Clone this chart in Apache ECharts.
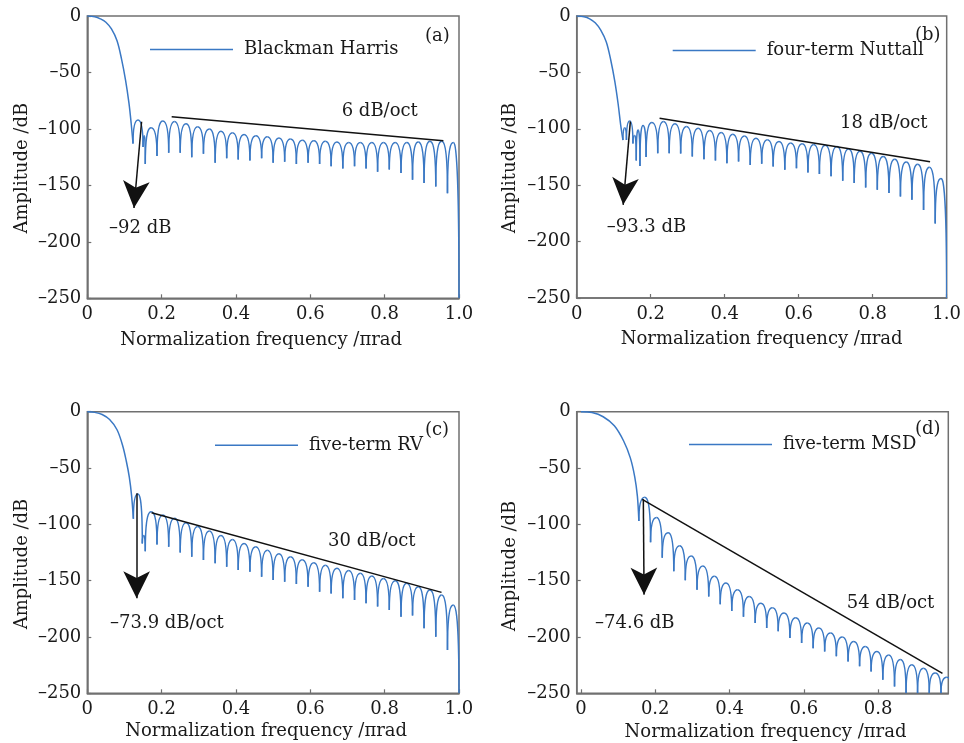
<!DOCTYPE html>
<html><head><meta charset="utf-8">
<script src="https://cdn.jsdelivr.net/npm/echarts@6/dist/echarts.min.js"></script>
<style>html,body{margin:0;padding:0;background:#fff}#c{width:964px;height:743px}</style>
</head><body><div id="c"></div>
<script>
// ---------- tick labels ----------
const xTicksFull = [0, 0.2, 0.4, 0.6, 0.8, 1.0];
const xTicksD = [0, 0.2, 0.4, 0.6, 0.8];
const yTicks = [-250, -200, -150, -100, -50, 0];

const legendNames = ['Blackman Harris', 'four-term Nuttall', 'five-term RV', 'five-term MSD'];
const slopeTexts = ['6 dB/oct', '18 dB/oct', '30 dB/oct', '54 dB/oct'];
const sideTexts = ['\u201392 dB', '\u201393.3 dB', '\u201373.9 dB/oct', '\u201374.6 dB'];
const panelTags = ['(a)', '(b)', '(c)', '(d)'];

// ---------- panel (a) Blackman Harris ----------
const mainXA = [0, 0.02, 0.035, 0.05, 0.065, 0.08, 0.092, 0.103, 0.112, 0.118, 0.123];
const mainYA = [0, -0.7, -2.5, -5.5, -11.5, -22, -38, -57, -77, -95, -113];
const nullXA = [0.123, 0.150, 0.156, 0.1875, 0.219, 0.25, 0.281, 0.3125, 0.344, 0.375, 0.406, 0.4375, 0.469, 0.5, 0.531, 0.5625, 0.594, 0.625, 0.656, 0.6875, 0.719, 0.75, 0.781, 0.8125, 0.844, 0.875, 0.906, 0.9375, 0.969, 1.0];
const nullYA = [-113, -116, -131, -124, -121, -121, -125, -122, -130, -126, -127, -128, -126, -130, -129, -131, -130, -131, -133, -135, -133, -135, -138, -136, -139, -145, -148, -151, -157, -250];
const peakYA = [-92, -106, -99, -93, -93.5, -95.5, -98, -100, -102, -103.5, -105, -106, -107, -108, -109, -110, -110.5, -111, -111.5, -112, -112, -112, -112, -112, -112, -111.5, -111, -111, -112];
const slopeXA = [0.227, 0.958];
const slopeYA = [-89.2, -110.4];
const arrowXA = [0.146, 0.1256];
const arrowYA = [-93.6, -170];

// ---------- panel (b) four-term Nuttall ----------
const mainXB = [0, 0.02, 0.035, 0.05, 0.065, 0.08, 0.092, 0.103, 0.112, 0.119, 0.125];
const mainYB = [0, -0.7, -2.5, -6, -12.5, -23, -39, -58, -78, -97, -110];
const nullXB = [0.125, 0.1345, 0.152, 0.161, 0.171, 0.1875, 0.219, 0.25, 0.281, 0.3125, 0.344, 0.375, 0.406, 0.4375, 0.469, 0.5, 0.531, 0.5625, 0.594, 0.625, 0.656, 0.6875, 0.719, 0.75, 0.781, 0.8125, 0.844, 0.875, 0.906, 0.9375, 0.969, 1.0];
const nullYB = [-110, -110, -113, -128, -133, -125, -121.6, -121.6, -122, -124.6, -127, -128, -130.5, -129, -132, -131, -133.4, -136.4, -135, -138.7, -140, -142, -146, -148, -152, -154, -157, -160, -163, -172, -184, -250];
const peakYB = [-99, -93, -106, -101, -97, -94.5, -93.6, -95.6, -98, -99.5, -101.5, -103.3, -104.8, -106.3, -108.3, -109.8, -111.3, -112.5, -113.2, -114, -114.5, -115.8, -118, -120, -121.7, -124.5, -127, -129.5, -131.5, -134, -144];
const slopeXB = [0.224, 0.955];
const slopeYB = [-90.6, -129.2];
const arrowXB = [0.145, 0.1256];
const arrowYB = [-93.6, -167.4];

// ---------- panel (c) five-term RV ----------
const mainXC = [0, 0.02, 0.04, 0.06, 0.08, 0.095, 0.105, 0.113, 0.119, 0.124];
const mainYC = [0, -0.6, -2.5, -7, -16, -30, -44, -58, -74, -95];
const nullXC = [0.124, 0.148, 0.156, 0.1875, 0.219, 0.25, 0.281, 0.3125, 0.344, 0.375, 0.406, 0.4375, 0.469, 0.5, 0.531, 0.5625, 0.594, 0.625, 0.656, 0.6875, 0.719, 0.75, 0.781, 0.8125, 0.844, 0.875, 0.906, 0.9375, 0.969, 1.0];
const nullYC = [-95, -117, -124, -118, -120, -125, -128.7, -131.7, -134.6, -137.6, -140.5, -142, -146.5, -149.4, -151, -153, -155.3, -159.8, -161.3, -165.7, -167.2, -170, -173, -176, -182, -181, -192.3, -199.7, -211.6, -250];
const peakYC = [-73, -110, -88.8, -91.7, -94.7, -98.5, -102, -106, -110, -113.5, -117, -120, -123, -126, -128.7, -131.5, -134, -136.4, -139, -141, -143.5, -145.9, -148, -150, -152.4, -155.3, -158.3, -162.7, -171.6];
const slopeXC = [0.173, 0.953];
const slopeYC = [-89.7, -160.4];
const arrowXC = [0.1327, 0.1327];
const arrowYC = [-72.5, -165.7];

// ---------- panel (d) five-term MSD ----------
const mainXD = [0, 0.03, 0.06, 0.09, 0.115, 0.133, 0.145, 0.152, 0.156];
const mainYD = [0, -0.8, -4.5, -12.5, -26, -41, -58, -75, -97];
const nullXD = [0.156, 0.1875, 0.219, 0.25, 0.281, 0.3125, 0.344, 0.375, 0.406, 0.4375, 0.469, 0.5, 0.531, 0.5625, 0.594, 0.625, 0.656, 0.6875, 0.719, 0.75, 0.781, 0.8125, 0.844, 0.875, 0.906, 0.9375, 0.969, 1.0];
const nullYD = [-97, -116, -129.7, -141.6, -149.6, -158, -164, -171, -177, -182, -187.6, -192, -195, -201, -205.4, -210, -213, -217, -221.8, -226, -230.7, -238, -244, -250, -250, -250, -250, -250];
const peakYD = [-76, -94, -107.5, -119, -128, -137, -146, -152, -158, -164, -170, -174, -178.7, -183, -187.6, -192, -196.5, -200, -204, -208.4, -213, -216, -220, -224.7, -227.7, -232, -235.7];
const slopeXD = [0.165, 0.973];
const slopeYD = [-77.8, -232.3];
const arrowXD = [0.168, 0.17];
const arrowYD = [-77.8, -162.4];

// ---------- styling / layout ----------
const FONT = '"DejaVu Serif", serif';
const BLUE = '#3a78c4';
const AXIS = '#707070';
const INK = '#1a1a1a';
const FS = 18;

const panels = [
  {mainX: mainXA, mainY: mainYA, nullX: nullXA, nullY: nullYA, peakY: peakYA, slopeX: slopeXA, slopeY: slopeYA, arrowX: arrowXA, arrowY: arrowYA,
   grid: {left: 87.3, top: 16, width: 371.7, height: 282.3}, xMin: 0, xMax: 1, xTicks: xTicksFull,
   xNameGap: 33, xNamePad: [0, 24, 0, 0], yNameGap: 56, yNamePad: [0, 22, 0, 0],
   legend: {left: 150, cy: 50}, slopeTxt: [341.7, 111.7], sideTxt: [109, 228], tag: [425, 36]},
  {mainX: mainXB, mainY: mainYB, nullX: nullXB, nullY: nullYB, peakY: peakYB, slopeX: slopeXB, slopeY: slopeYB, arrowX: arrowXB, arrowY: arrowYB,
   grid: {left: 576.7, top: 16, width: 371.6, height: 282}, xMin: 0, xMax: 1, xTicks: xTicksFull,
   xNameGap: 32, xNamePad: [0, 0, 0, 0], yNameGap: 57, yNamePad: [0, 22, 0, 0],
   legend: {left: 672.7, cy: 51}, slopeTxt: [840, 123], sideTxt: [606.7, 227.7], tag: [915, 35]},
  {mainX: mainXC, mainY: mainYC, nullX: nullXC, nullY: nullYC, peakY: peakYC, slopeX: slopeXC, slopeY: slopeYC, arrowX: arrowXC, arrowY: arrowYC,
   grid: {left: 87.3, top: 411.7, width: 371.7, height: 281.6}, xMin: 0, xMax: 1, xTicks: xTicksFull,
   xNameGap: 29, xNamePad: [0, 14, 0, 0], yNameGap: 56, yNamePad: [0, 23, 0, 0],
   legend: {left: 215, cy: 445.7}, slopeTxt: [328, 541], sideTxt: [110, 623.3], tag: [425, 430]},
  {mainX: mainXD, mainY: mainYD, nullX: nullXD, nullY: nullYD, peakY: peakYD, slopeX: slopeXD, slopeY: slopeYD, arrowX: arrowXD, arrowY: arrowYD,
   grid: {left: 576.7, top: 411.7, width: 371.6, height: 281.6}, xMin: -0.0113, xMax: 0.9887, xTicks: xTicksD,
   xNameGap: 30, xNamePad: [0, 0, 0, 6], yNameGap: 57, yNamePad: [0, 27, 0, 0],
   legend: {left: 689, cy: 445}, slopeTxt: [846.7, 603.3], sideTxt: [595, 623], tag: [915, 429]}
];

const fmtY = v => v < 0 ? '\u2013' + Math.abs(v) : String(v);
const fmtX = v => v === 0 ? '0' : v.toFixed(1);

// draws one sidelobe arch between two nulls through the axis scales
function lobeRender(params, api) {
  const xa = api.value(0), xb = api.value(1);
  const p0 = api.coord([xa, api.value(2)]);
  const p1 = api.coord([xb, api.value(4)]);
  const pm = api.coord([(xa + xb) / 2, api.value(3)]);
  const hwL = pm[0] - p0[0], hwR = p1[0] - pm[0];
  const st = {stroke: BLUE, lineWidth: 1.5, fill: 'none'};
  return {type: 'group', children: [
    {type: 'bezierCurve', shape: {x1: p0[0], y1: p0[1], cpx1: p0[0], cpy1: pm[1], cpx2: p0[0] + 0.75 * hwL, cpy2: pm[1], x2: pm[0], y2: pm[1]}, style: st},
    {type: 'bezierCurve', shape: {x1: pm[0], y1: pm[1], cpx1: p1[0] - 0.75 * hwR, cpy1: pm[1], cpx2: p1[0], cpy2: pm[1], x2: p1[0], y2: p1[1]}, style: st}
  ]};
}

const grids = [], xAxes = [], yAxes = [], series = [], legends = [], graphics = [];
panels.forEach((p, i) => {
  grids.push(Object.assign({show: true, borderColor: AXIS, borderWidth: 1.5, backgroundColor: 'transparent', containLabel: false}, p.grid));
  xAxes.push({
    gridIndex: i, type: 'value', min: p.xMin, max: p.xMax,
    axisLine: {show: true, onZero: false, lineStyle: {color: AXIS, width: 1.5}},
    axisTick: {show: true, inside: true, length: 4, customValues: p.xTicks, lineStyle: {color: AXIS, width: 1.2}},
    axisLabel: {customValues: p.xTicks, formatter: fmtX, color: INK, fontFamily: FONT, fontSize: FS, margin: 7},
    splitLine: {show: false},
    name: 'Normalization frequency /\u03c0rad', nameLocation: 'middle', nameGap: p.xNameGap,
    nameTextStyle: {fontFamily: FONT, fontSize: FS, color: INK, padding: p.xNamePad}
  });
  yAxes.push({
    gridIndex: i, type: 'value', min: yTicks[0], max: yTicks[yTicks.length - 1], interval: 50,
    axisLine: {show: true, onZero: false, lineStyle: {color: AXIS, width: 1.5}},
    axisTick: {show: true, inside: true, length: 4, lineStyle: {color: AXIS, width: 1.2}},
    axisLabel: {formatter: fmtY, color: INK, fontFamily: FONT, fontSize: FS, margin: 6},
    splitLine: {show: false},
    name: 'Amplitude /dB', nameLocation: 'middle', nameGap: p.yNameGap,
    nameTextStyle: {fontFamily: FONT, fontSize: FS, color: INK, padding: p.yNamePad}
  });
  series.push({
    type: 'line', name: legendNames[i], xAxisIndex: i, yAxisIndex: i,
    data: p.mainX.map((x, j) => [x, p.mainY[j]]),
    smooth: 0.35, symbol: 'none', showSymbol: false, clip: true,
    lineStyle: {color: BLUE, width: 1.5}, itemStyle: {color: BLUE}, z: 3
  });
  const lobes = p.peakY.map((py, j) => [p.nullX[j], p.nullX[j + 1], p.nullY[j], py, p.nullY[j + 1]]);
  series.push({
    type: 'custom', name: legendNames[i] + ' sidelobes', xAxisIndex: i, yAxisIndex: i,
    data: lobes, renderItem: lobeRender, clip: true, silent: true, z: 3,
    encode: {x: [0, 1], y: [2, 3, 4]}
  });
  series.push({
    type: 'line', name: slopeTexts[i], xAxisIndex: i, yAxisIndex: i,
    data: p.slopeX.map((x, j) => [x, p.slopeY[j]]),
    symbol: 'none', showSymbol: false, silent: true, z: 4,
    lineStyle: {color: '#111', width: 1.5},
    markLine: {
      silent: true, animation: false, symbol: ['none', 'arrow'], symbolSize: [20, 27],
      label: {show: false}, emphasis: {disabled: true},
      lineStyle: {color: '#111', width: 1.5, type: 'solid'},
      data: [[{coord: [p.arrowX[0], p.arrowY[0]]}, {coord: [p.arrowX[1], p.arrowY[1]]}]]
    }
  });
  legends.push({
    data: [legendNames[i]], left: p.legend.left, top: p.legend.cy - 9.5, padding: 0,
    icon: 'rect', itemWidth: 83, itemHeight: 1.5, itemGap: 0, selectedMode: false,
    itemStyle: {color: BLUE},
    textStyle: {fontFamily: FONT, fontSize: FS, color: INK, padding: [0, 0, 0, 6]}
  });
  const txt = (s, pos) => ({type: 'text', x: pos[0], y: pos[1], silent: true, z: 10,
    style: {text: s, fontFamily: FONT, fontSize: FS, fill: INK, align: 'left', verticalAlign: 'middle'}});
  graphics.push(txt(slopeTexts[i], p.slopeTxt));
  graphics.push(txt(sideTexts[i], p.sideTxt));
  graphics.push(txt(panelTags[i], p.tag));
});

const chart = echarts.init(document.getElementById('c'), null, {renderer: 'canvas'});
chart.setOption({
  animation: false,
  backgroundColor: '#ffffff',
  grid: grids, xAxis: xAxes, yAxis: yAxes, series: series, legend: legends, graphic: graphics
});
</script>
</body></html>
